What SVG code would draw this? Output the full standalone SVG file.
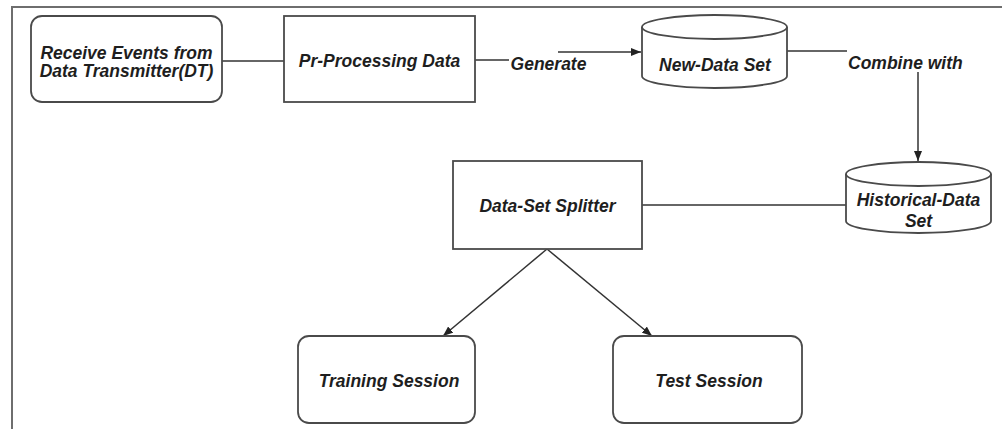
<svg xmlns="http://www.w3.org/2000/svg" width="1002" height="429" viewBox="0 0 1002 429">
  <style>
    .frame { stroke: #6e6e6e; stroke-width: 2; fill: none; }
    .box { fill: #ffffff; stroke: #4a4a4a; stroke-width: 1.8; }
    .edge { stroke: #333333; stroke-width: 1.5; fill: none; }
    .lbl { font-family: "Liberation Sans", Arial, sans-serif; font-size: 17.5px; font-weight: bold; font-style: italic; fill: #1e1e1e; }
    .mid { text-anchor: middle; }
  </style>
  <defs>
    <marker id="arrow" viewBox="0 0 10 8" refX="10" refY="4" markerWidth="10" markerHeight="8" markerUnits="userSpaceOnUse" orient="auto">
      <path d="M0,0 L10,4 L0,8 z" fill="#222222"/>
    </marker>
  </defs>

  <rect width="1002" height="429" fill="#ffffff"/>
  <!-- outer frame: top and left edges -->
  <path class="frame" d="M12,429 V7 H1002"/>

  <!-- connectors -->
  <g id="connectors">
    <line class="edge" x1="222" y1="61" x2="284" y2="61"/>
    <line class="edge" x1="475" y1="60" x2="509" y2="60"/>
    <line class="edge" x1="558" y1="52" x2="641" y2="52" marker-end="url(#arrow)"/>
    <line class="edge" x1="787" y1="51" x2="847" y2="51"/>
    <line class="edge" x1="918" y1="72" x2="918" y2="161" marker-end="url(#arrow)"/>
    <line class="edge" x1="642" y1="205" x2="846" y2="205"/>
    <line class="edge" x1="547" y1="249" x2="443" y2="336" marker-end="url(#arrow)"/>
    <line class="edge" x1="547" y1="249" x2="652" y2="336" marker-end="url(#arrow)"/>
    <text class="lbl mid" x="548.5" y="70">Generate</text>
    <text class="lbl" x="848" y="69">Combine with</text>
  </g>

  <g id="receive-events">
    <rect class="box" x="31" y="16" width="191" height="86" rx="11"/>
    <text class="lbl mid" x="126.5" y="59">Receive Events from</text>
    <text class="lbl mid" x="126.5" y="77">Data Transmitter(DT)</text>
  </g>

  <g id="pre-processing">
    <rect class="box" x="284" y="16" width="191" height="86"/>
    <text class="lbl mid" x="379.5" y="67">Pr-Processing Data</text>
  </g>

  <g id="new-data-set">
    <path class="box" d="M642,27 a72.5,12 0 0 1 145,0 v49 a72.5,12 0 0 1 -145,0 z"/>
    <path class="box" fill="none" d="M642,27 a72.5,12 0 0 0 145,0"/>
    <text class="lbl mid" x="715" y="71">New-Data Set</text>
  </g>

  <g id="historical-data-set">
    <path class="box" d="M846,174 a72.5,12 0 0 1 145,0 v47 a72.5,12 0 0 1 -145,0 z"/>
    <path class="box" fill="none" d="M846,174 a72.5,12 0 0 0 145,0"/>
    <text class="lbl mid" x="918.5" y="206">Historical-Data</text>
    <text class="lbl mid" x="918.5" y="227">Set</text>
  </g>

  <g id="data-set-splitter">
    <rect class="box" x="453" y="161" width="189" height="88"/>
    <text class="lbl mid" x="547.5" y="212">Data-Set Splitter</text>
  </g>

  <g id="training-session">
    <rect class="box" x="298" y="336" width="177" height="87" rx="11"/>
    <text class="lbl mid" x="389" y="387">Training Session</text>
  </g>

  <g id="test-session">
    <rect class="box" x="613" y="336" width="189" height="87" rx="11"/>
    <text class="lbl mid" x="709" y="387">Test Session</text>
  </g>
</svg>
